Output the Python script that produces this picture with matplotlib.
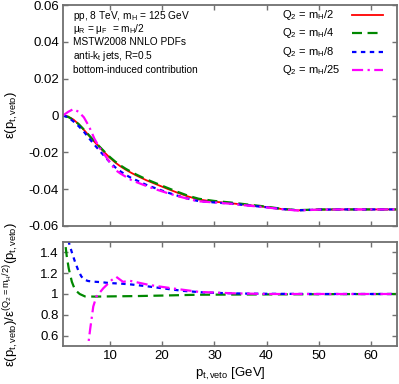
import matplotlib
matplotlib.use("Agg")
import matplotlib.pyplot as plt

plt.rcParams['font.family'] = ['Liberation Sans', 'DejaVu Sans']
plt.rcParams['mathtext.fontset'] = 'custom'
plt.rcParams['mathtext.rm'] = 'Liberation Sans'
plt.rcParams['mathtext.it'] = 'Liberation Sans'
plt.rcParams['mathtext.bf'] = 'Liberation Sans:bold'
plt.rcParams['mathtext.sf'] = 'Liberation Sans'

# ---------------- data ----------------
pt = [1, 2, 3, 4, 5, 6, 7, 8, 9, 10, 11, 12, 13, 14, 15, 17, 19, 21, 23, 25,
      27, 30, 33, 36, 40, 43, 46, 50, 55, 60, 65]
eps_mh2 = [0, -0.0006, -0.0022, -0.0047, -0.0078, -0.0110, -0.0142, -0.0172,
           -0.0202, -0.0230, -0.0255, -0.0276, -0.0294, -0.0310, -0.0325,
           -0.0352, -0.0375, -0.0398, -0.0420, -0.0440, -0.0456, -0.0468,
           -0.0476, -0.0485, -0.0497, -0.0508, -0.0515, -0.0511, -0.0510,
           -0.0510, -0.0510]
eps_mh4 = [0, -0.0008, -0.0024, -0.0047, -0.0076, -0.0108, -0.0139, -0.0169,
           -0.0198, -0.0226, -0.0250, -0.0271, -0.0289, -0.0305, -0.0320,
           -0.0347, -0.0370, -0.0393, -0.0415, -0.0436, -0.0452, -0.0464,
           -0.0472, -0.0482, -0.0495, -0.0507, -0.0514, -0.0510, -0.0510,
           -0.0510, -0.0510]
eps_mh8 = [0, -0.0010, -0.0032, -0.0058, -0.0088, -0.0124, -0.0158, -0.0191,
           -0.0223, -0.0254, -0.0281, -0.0303, -0.0322, -0.0338, -0.0351,
           -0.0377, -0.0398, -0.0418, -0.0436, -0.0452, -0.0465, -0.0472,
           -0.0478, -0.0487, -0.0498, -0.0508, -0.0515, -0.0511, -0.0510,
           -0.0510, -0.0510]
eps_mh25 = [0, 0.0020, 0.0035, 0.0020, -0.0010, -0.0060, -0.0125, -0.0175,
            -0.0215, -0.0255, -0.0295, -0.0315, -0.0332, -0.0349, -0.0361,
            -0.0383, -0.0403, -0.0421, -0.0438, -0.0453, -0.0466, -0.0472,
            -0.0479, -0.0488, -0.0499, -0.0509, -0.0516, -0.0511, -0.0510,
            -0.0510, -0.0510]

ratio_mh4_x = [1.3, 1.4, 1.7, 2.1, 2.7, 3.3, 4.2, 5.2, 7, 10, 15, 20, 27, 35, 45, 55, 65]
ratio_mh4 = [1.6, 1.5, 1.37, 1.245, 1.117, 1.04, 1.0, 0.977, 0.975, 0.977, 0.98,
             0.985, 0.993, 0.995, 0.997, 0.999, 1.0]
ratio_mh8_x = [1.8, 2.1, 2.7, 3.3, 3.9, 4.5, 5.0, 5.8, 7, 8, 10, 12, 14, 17, 20,
               24, 28, 32, 36, 40, 50, 65]
ratio_mh8 = [1.6, 1.5, 1.40, 1.31, 1.23, 1.17, 1.14, 1.125, 1.118, 1.115, 1.105,
             1.10, 1.092, 1.075, 1.055, 1.03, 1.015, 1.008, 1.004, 1.002, 1.0, 1.0]
ratio_mh25_x = [5.6, 5.8, 6.2, 6.8, 7.4, 8.7, 10.3, 11.2, 12.5, 13.8, 17.6, 22,
                27.1, 33.4, 40, 50, 65]
ratio_mh25 = [0.4, 0.5, 0.66, 0.88, 0.975, 1.054, 1.133, 1.165, 1.117, 1.127,
              1.086, 1.054, 1.02, 1.007, 1.0, 1.0, 1.0]

labels = [r'Q$_2$ = m$_H$/2', r'Q$_2$ = m$_H$/4', r'Q$_2$ = m$_H$/8', r'Q$_2$ = m$_H$/25']
colors = ['#ff0000', '#008800', '#0000ff', '#ff00ff']

xticks = [10, 20, 30, 40, 50, 60]
yticks_top = [-0.06, -0.04, -0.02, 0, 0.02, 0.04, 0.06]
yticklabels_top = ['-0.06', '-0.04', '-0.02', '0', '0.02', '0.04', '0.06']
yticks_bot = [0.6, 0.8, 1.0, 1.2, 1.4]
yticklabels_bot = ['0.6', '0.8', '1', '1.2', '1.4']

annot = [r'pp, 8 TeV, m$_H$ = 125 GeV',
         r'μ$_R$ = μ$_F$  = m$_H$/2',
         'MSTW2008 NNLO PDFs',
         r'anti-k$_t$ jets, R=0.5',
         'bottom-induced contribution']

# ---------------- figure ----------------
W, H = 399, 384
fig = plt.figure(figsize=(W / 100, H / 100), dpi=100)

def rect(l, t, r, b):
    return [l / W, 1 - b / H, (r - l) / W, (b - t) / H]

ax1 = fig.add_axes(rect(63, 5, 397, 226))
ax2 = fig.add_axes(rect(63, 242, 397, 346))

styles = [dict(ls='-', lw=1.3),
          dict(ls=(0, (4.5, 2.5)), lw=1.6),
          dict(ls=(0, (2, 2)), lw=1.6),
          dict(ls=(0, (5, 2, 1, 2)), lw=1.6)]

tops = [eps_mh2, eps_mh4, eps_mh8, eps_mh25]
for ys, lab, c, st in zip(tops, labels, colors, styles):
    ax1.plot(pt, ys, color=c, label=lab, **st)

bots = [(ratio_mh4_x, ratio_mh4), (ratio_mh8_x, ratio_mh8), (ratio_mh25_x, ratio_mh25)]
for (xs, ys), c, st in zip(bots, colors[1:], styles[1:]):
    ax2.plot(xs, ys, color=c, **st)

spc = '#707070'
for ax in (ax1, ax2):
    ax.set_xlim(1, 65)
    ax.set_xticks(xticks)
    for s in ax.spines.values():
        s.set_color(spc)
        s.set_linewidth(1.3)
    ax.tick_params(direction='in', top=True, right=True, length=3.5, width=1,
                   color=spc, labelsize=9.5, pad=3)

ax1.set_ylim(-0.06, 0.06)
ax1.set_yticks(yticks_top)
ax1.set_yticklabels(yticklabels_top)
ax1.tick_params(axis='x', labelbottom=False)

ax2.set_ylim(0.5, 1.5)
ax2.set_yticks(yticks_bot)
ax2.set_yticklabels(yticklabels_bot)

# manual key (text left-aligned, sample line on the right)
def ax_x(px):
    return (px - 63) / 334

def ax_y(py):
    return 1 - (py - 5) / 221

for i, (lab, c, st) in enumerate(zip(labels, colors, styles)):
    yp = 15 + i * 18.4
    ax1.text(ax_x(282), ax_y(yp), lab, transform=ax1.transAxes, fontsize=8,
             ha='left', va='center')
    ax1.plot([ax_x(352), ax_x(383)], [ax_y(yp), ax_y(yp)], color=c,
             transform=ax1.transAxes, **st)

ys_annot = [16, 29, 42, 56, 70]
for txt, yp in zip(annot, ys_annot):
    ax1.text(ax_x(73), ax_y(yp), txt, transform=ax1.transAxes,
             fontsize=7.3, ha='left', va='center')

fig.text(12 / W, 1 - 115 / H, r'ε(p$_{t, veto}$)', rotation=90, fontsize=9.5,
         ha='center', va='center')
fig.text(11 / W, 1 - 294 / H,
         r'ε(p$_{t, veto}$)/ε$^{(Q_2=m_H/2)}$(p$_{t, veto}$)', rotation=90,
         fontsize=9.5, ha='center', va='center')
fig.text(230 / W, 1 - 374 / H, r'p$_{t,veto}$ [GeV]', fontsize=9.5,
         ha='center', va='center')

fig.savefig('out.png', dpi=100)
